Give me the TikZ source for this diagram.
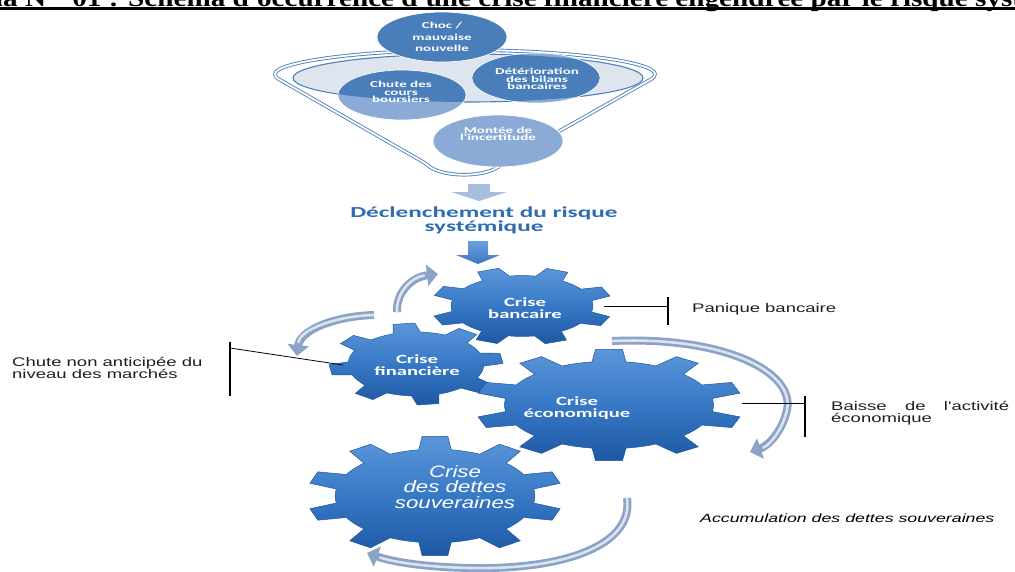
\documentclass[tikz,border=0pt]{standalone}
\usepackage{fontspec}
\setmainfont{Liberation Serif}
\newfontfamily\titlefont[FakeStretch=1.215]{Liberation Serif}
\newfontfamily\calfont[FakeStretch=1.65]{Carlito}
\newfontfamily\labfont[FakeStretch=1.48]{Liberation Sans}
\newfontfamily\detfont[FakeStretch=1.35]{Liberation Sans}
\usetikzlibrary{arrows.meta}

\definecolor{funnelblue}{RGB}{79,129,189}
\definecolor{circdark}{RGB}{74,126,187}
\definecolor{circlight}{RGB}{140,170,214}
\definecolor{ellfill}{RGB}{222,229,239}
\definecolor{arrlight}{RGB}{167,190,222}
\definecolor{arrtop}{RGB}{110,160,222}
\definecolor{arrbot}{RGB}{60,118,190}
\definecolor{trigblue}{RGB}{46,108,178}
\definecolor{geartop}{RGB}{92,150,218}
\definecolor{gearmid}{RGB}{55,120,197}
\definecolor{gearbot}{RGB}{30,88,162}
\definecolor{arcdark}{RGB}{140,163,197}
\definecolor{arclight}{RGB}{218,227,240}
\definecolor{labelgrey}{RGB}{30,30,30}

% gear outline: centre x, centre y, x radius, y radius, teeth, angle of first tooth
\newcommand{\drawgear}[6]{%
  \pgfmathsetmacro{\gearP}{360/#5}%
  \pgfmathsetmacro{\gearB}{0.26*\gearP}%
  \pgfmathsetmacro{\gearT}{0.16*\gearP}%
  \shade[top color=geartop, bottom color=gearbot, middle color=gearmid,
         draw=gearbot, line width=0.5, shift={(#1,#2)}]
    ({0.78*#3*cos(#6-\gearB)},{0.78*#4*sin(#6-\gearB)})
    \foreach \k in {1,...,#5}{
      -- ({#3*cos(#6+(\k-1)*\gearP-\gearT)},{#4*sin(#6+(\k-1)*\gearP-\gearT)})
      -- ({#3*cos(#6+(\k-1)*\gearP+\gearT)},{#4*sin(#6+(\k-1)*\gearP+\gearT)})
      -- ({0.78*#3*cos(#6+(\k-1)*\gearP+\gearB)},{0.78*#4*sin(#6+(\k-1)*\gearP+\gearB)})
      arc[start angle={#6+(\k-1)*\gearP+\gearB}, end angle={#6+\k*\gearP-\gearB},
          x radius={0.78*#3}, y radius={0.78*#4}]
    } -- cycle;
}
% curved return arrow with a light highlight along its body
\newcommand{\cyclearrow}[1]{%
  \draw[arcarrow] #1;
  \draw[archigh] #1;
}

\begin{document}
\begin{tikzpicture}[x=1pt,y=-1pt,
  circtext/.style={text=white, align=center, inner sep=0,
    font=\calfont\bfseries\fontsize{9.1}{7.6}\selectfont},
  geartext/.style={text=white, align=center, inner sep=0,
    font=\calfont\bfseries\fontsize{12.5}{11.8}\selectfont},
  labeltext/.style={text=labelgrey, align=left, inner sep=0, anchor=west,
    font=\labfont\fontsize{12.5}{11.5}\selectfont},
  callout/.style={draw=black, line width=0.8},
  calloutbar/.style={draw=black, line width=1.6},
  arcarrow/.style={draw=arcdark, line width=8, -{Triangle[length=11pt,width=21pt]}},
  archigh/.style={draw=arclight, line width=2.6, shorten >=14pt, line cap=round},
]
\useasboundingbox (0,0) rectangle (1015,571);
\clip (0,0) rectangle (1015,571);

% ---- heading ----
\node[anchor=base west, inner sep=0, font=\titlefont\bfseries\fontsize{24}{26}\selectfont]
  (title) at (3,6)
  {\llap{Schém}a N°\ \ 01 : Schéma d'occurrence d'une crise financière engendrée par le risque sys\rlap{témique}};
\coordinate (ulL) at (0,8.7);
\coordinate (ulR) at (1015,8.7);
\draw[line width=2.7] (ulL) -- (ulR);

% ---- funnel ----
\coordinate (fL) at (275,77);
\draw[funnelblue, line width=0.9, double=white, double distance=1.8, fill=white,
      rounded corners=3]
  (fL) arc[start angle=180, end angle=360, x radius=190, y radius=27]
  -- (503,163) .. controls (486,178) and (442,178) .. (425,163) -- cycle;
\draw[funnelblue, line width=1.1, fill=ellfill] (468,78) ellipse[x radius=175, y radius=24];

% circles: light below the rim, dark inside it
\fill[circlight] (402,95) ellipse[x radius=64, y radius=25];
\fill[circlight] (536,78) ellipse[x radius=64, y radius=25];
\fill[circlight] (498,141) ellipse[x radius=65, y radius=26];
\begin{scope}
  \clip (468,78) ellipse[x radius=175, y radius=24];
  \fill[circdark] (402,95) ellipse[x radius=64, y radius=25];
  \fill[circdark] (536,78) ellipse[x radius=64, y radius=25];
\end{scope}
\fill[circdark] (442,37) ellipse[x radius=65, y radius=25];
\begin{scope}[white, line width=0.7]
  \draw (442,37) ellipse[x radius=65, y radius=25];
  \draw (402,95) ellipse[x radius=64, y radius=25];
  \draw (536,78) ellipse[x radius=64, y radius=25];
  \draw (498,141) ellipse[x radius=65, y radius=26];
\end{scope}

\node[circtext, font=\calfont\bfseries\fontsize{9.1}{11.3}\selectfont] (choc) at (442,37) {Choc /\\mauvaise\\nouvelle};
\node[circtext] (chute) at (401,92) {Chute des\\cours\\boursiers};
\node[circtext] (deter) at (537,79) {Détérioration\\des bilans\\bancaires};
\node[circtext] (montee) at (498,134) {Montée de\\l'incertitude};

% ---- arrow to the trigger ----
\fill[arrlight] (468,184) -- (490,184) -- (490,192) -- (507,192) -- (479,201)
  -- (451,192) -- (468,192) -- cycle;

\node[text=trigblue, align=center, inner sep=0,
      font=\calfont\bfseries\fontsize{15.3}{12.5}\selectfont]
  (trigger) at (484,220) {Déclenchement du risque\\systémique};

\shade[top color=arrtop, bottom color=arrbot]
  (468,241) -- (488,241) -- (488,255) -- (500,255) -- (478,264) -- (456,255)
  -- (468,255) -- cycle;

% ---- return arrows ----
\coordinate (a1s) at (397,312);  \coordinate (a1e) at (438,274);
\coordinate (a2s) at (374,315);  \coordinate (a2e) at (297,356);
\coordinate (a3s) at (612,341);  \coordinate (a3m) at (787,410); \coordinate (a3e) at (750,452);
\coordinate (a4s) at (627,498);  \coordinate (a4m) at (470,568); \coordinate (a4e) at (367,553);
\cyclearrow{(a1s) .. controls (396,292) and (412,277) .. (a1e)}
\cyclearrow{(a2s) .. controls (335,316) and (300,330) .. (a2e)}
\cyclearrow{(a3s) .. controls (725,336) and (795,372) .. (a3m) .. controls (782,432) and (768,446) .. (a3e)}
\cyclearrow{(a4s) .. controls (634,545) and (565,570) .. (a4m) .. controls (420,567) and (390,561) .. (a4e)}

% ---- gears ----
\drawgear{522}{306}{91}{39}{8}{-112}
\drawgear{416}{364}{87}{41}{8}{-98}
\drawgear{609}{405}{134}{56}{10}{-90}
\drawgear{435}{496}{128}{60}{10}{-90}

\node[geartext] (banc) at (525,308) {Crise\\bancaire};
\node[geartext] (fin) at (417,365) {Crise\\financière};
\node[geartext] (eco) at (577,408) {Crise\\économique};
\node[text=white, align=center, inner sep=0,
      font=\detfont\itshape\fontsize{16.5}{15.5}\selectfont]
  (dettes) at (455,487) {Crise\\des dettes\\souveraines};

% ---- callouts ----
\coordinate (bancR) at (604,306);
\coordinate (bancM) at (668,306);
\coordinate (bancT) at (668,297);
\coordinate (bancB) at (668,325);
\draw[callout] (bancR) -- (bancM);
\draw[calloutbar] (bancT) -- (bancB);
\node[labeltext] (panique) at (692,309) {Panique bancaire};

\coordinate (finL) at (343,365);
\coordinate (finM) at (230,348);
\coordinate (finT) at (230,342);
\coordinate (finB) at (230,396);
\draw[callout] (finL) -- (finM);
\draw[calloutbar] (finT) -- (finB);
\node[labeltext] (chutelab) at (12,368) {Chute non anticipée du\\niveau des marchés};

\coordinate (ecoR) at (742,403);
\coordinate (ecoM) at (805,403);
\coordinate (ecoT) at (805,396);
\coordinate (ecoB) at (805,437);
\draw[callout] (ecoR) -- (ecoM);
\draw[calloutbar] (ecoT) -- (ecoB);
\node[labeltext] (baisse) at (831,413) {\makebox[178pt][s]{Baisse de l'activité}\\économique};

\node[labeltext, font=\labfont\itshape\fontsize{12}{14}\selectfont, text=black]
  (accum) at (700,518) {Accumulation des dettes souveraines};
\end{tikzpicture}
\end{document}
